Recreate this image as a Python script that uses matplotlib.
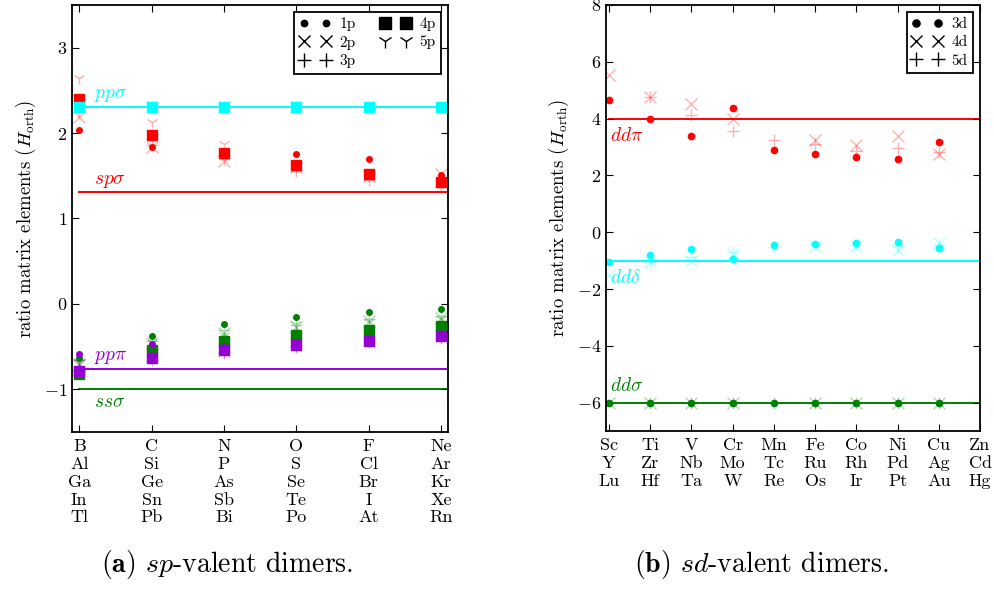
import matplotlib
matplotlib.use("Agg")
import matplotlib.pyplot as plt
import numpy as np
from matplotlib.lines import Line2D

plt.rcParams.update({
    "font.family": "serif",
    "font.serif": ["cmr10"],
    "mathtext.fontset": "cm",
    "axes.formatter.use_mathtext": True,
    "axes.linewidth": 1.3,
    "xtick.direction": "in",
    "ytick.direction": "in",
    "xtick.top": True,
    "ytick.right": True,
    "xtick.major.size": 5,
    "ytick.major.size": 5,
    "xtick.major.pad": 5,
    "font.size": 13,
})

nan = np.nan

# sp-valent dimers: one column per group, one row per period
sp_groups = [
    ["B", "Al", "Ga", "In", "Tl"],
    ["C", "Si", "Ge", "Sn", "Pb"],
    ["N", "P", "As", "Sb", "Bi"],
    ["O", "S", "Se", "Te", "Po"],
    ["F", "Cl", "Br", "I", "At"],
    ["Ne", "Ar", "Kr", "Xe", "Rn"],
]
sp_rows = ["1p", "2p", "3p", "4p", "5p"]

ss_sigma = [
    [-0.63, -0.38, -0.24, -0.15, -0.10, -0.06],
    [-0.70, -0.46, -0.34, -0.27, -0.20, -0.16],
    [-0.66, -0.44, -0.31, -0.25, -0.18, -0.14],
    [-0.82, -0.54, -0.43, -0.36, -0.30, -0.26],
    [-0.68, -0.45, -0.36, -0.24, -0.21, -0.18],
]
sp_sigma = [
    [2.03, 1.84, 1.75, 1.75, 1.70, 1.51],
    [2.19, 1.84, 1.67, 1.60, 1.50, 1.52],
    [2.25, 1.86, 1.70, 1.55, 1.45, 1.37],
    [2.40, 1.98, 1.77, 1.63, 1.52, 1.43],
    [2.65, 2.13, 1.87, 1.60, 1.50, 1.44],
]
pp_sigma = [
    [2.31, 2.31, 2.31, 2.31, 2.31, 2.31],
    [2.31, 2.31, 2.31, 2.31, 2.31, 2.31],
    [2.31, 2.31, 2.31, 2.31, 2.31, 2.31],
    [2.31, 2.31, 2.31, 2.31, 2.31, 2.31],
    [2.31, 2.31, 2.31, 2.31, 2.31, 2.31],
]
pp_pi = [
    [-0.59, -0.47, -0.50, -0.45, -0.40, -0.36],
    [-0.72, -0.60, -0.55, -0.48, -0.43, -0.38],
    [-0.74, -0.62, -0.56, -0.49, -0.44, -0.39],
    [-0.79, -0.63, -0.54, -0.48, -0.43, -0.38],
    [-0.77, -0.66, -0.58, -0.50, -0.45, -0.40],
]
sp_canonical = {"ss_sigma": -1.0, "sp_sigma": 1.31, "pp_sigma": 2.31, "pp_pi": -0.76}

# sd-valent dimers
sd_groups = [
    ["Sc", "Y", "Lu"], ["Ti", "Zr", "Hf"], ["V", "Nb", "Ta"], ["Cr", "Mo", "W"],
    ["Mn", "Tc", "Re"], ["Fe", "Ru", "Os"], ["Co", "Rh", "Ir"], ["Ni", "Pd", "Pt"],
    ["Cu", "Ag", "Au"], ["Zn", "Cd", "Hg"],
]
sd_rows = ["3d", "4d", "5d"]

dd_sigma = [
    [-6.0, -6.0, -6.0, -6.0, -6.0, -6.0, -6.0, -6.0, -6.0, nan],
    [-6.0, -6.0, -6.0, -6.0, nan, -6.0, -6.0, -6.0, -6.0, nan],
    [nan, -6.0, -6.0, -6.0, -6.0, -6.0, -6.0, -6.0, -6.0, nan],
]
dd_pi = [
    [4.65, 3.97, 3.38, 4.37, 2.89, 2.76, 2.65, 2.58, 3.17, nan],
    [5.55, 4.75, 4.53, 4.00, nan, 3.24, 3.06, 3.40, 2.74, nan],
    [nan, 4.75, 4.11, 3.58, 3.23, 3.09, 2.85, 2.97, 2.82, nan],
]
dd_delta = [
    [-1.06, -0.79, -0.59, -0.93, -0.46, -0.41, -0.39, -0.35, -0.55, nan],
    [-1.49, -1.06, -1.02, -0.78, nan, -0.49, -0.49, -0.61, -0.37, nan],
    [nan, -1.06, -0.87, -0.70, -0.53, -0.45, -0.46, -0.49, -0.45, nan],
]
sd_canonical = {"dd_sigma": -6.0, "dd_pi": 4.0, "dd_delta": -1.0}

GREEN, RED, CYAN, PURPLE = "green", "red", "cyan", "darkviolet"

# marker style per row: (marker, size, alpha)
sp_styles = [("o", 4, 1.0), ("x", 8, 0.3), ("+", 9, 0.3), ("s", 7.5, 1.0), ("1", 9, 0.3)]
sd_styles = [("o", 4.5, 1.0), ("x", 8, 0.3), ("+", 9, 0.3)]


def draw_panel(ax, series, canonical, styles, x_max, label_x):
    for key, values, color, lab, lab_dy in series:
        ax.plot([0, x_max], [canonical[key]] * 2, color=color, lw=1.4, zorder=1)
        ax.text(label_x, canonical[key] + lab_dy, lab, color=color, fontsize=14,
                ha="left", va="center")
    for key, values, color, lab, lab_dy in series:
        for row, (marker, ms, alpha) in zip(values, styles):
            ax.plot(np.arange(len(row)), row, ls="none", marker=marker, ms=ms,
                    color=color, alpha=alpha, mew=1.0, zorder=2)


def legend_handles(names, styles):
    return [
        Line2D([], [], ls="none", marker=m, ms=ms * 1.15, color="black", mew=1.0, label=n)
        for n, (m, ms, a) in zip(names, styles)
    ]


fig = plt.figure(figsize=(9.95, 5.94), dpi=100)
ax_sp = fig.add_axes([0.0724, 0.2727, 0.378, 0.719])
ax_sd = fig.add_axes([0.609, 0.2744, 0.376, 0.7172])

draw_panel(
    ax_sp,
    [
        ("ss_sigma", ss_sigma, GREEN, r"$ss\sigma$", -0.15),
        ("sp_sigma", sp_sigma, RED, r"$sp\sigma$", 0.13),
        ("pp_sigma", pp_sigma, CYAN, r"$pp\sigma$", 0.13),
        ("pp_pi", pp_pi, PURPLE, r"$pp\pi$", 0.14),
    ],
    sp_canonical, sp_styles, 5.1, 0.2,
)
ax_sp.set_xlim(-0.1, 5.1)
ax_sp.set_ylim(-1.5, 3.5)
ax_sp.set_yticks([-1, 0, 1, 2, 3])
ax_sp.set_xticks(range(len(sp_groups)))
ax_sp.set_xticklabels(["\n".join(g) for g in sp_groups], linespacing=1.2)
ax_sp.set_ylabel(r"ratio matrix elements ($H_\mathrm{orth}$)", fontsize=13.5)
leg = ax_sp.legend(handles=legend_handles(sp_rows, sp_styles), ncol=2, numpoints=2,
                   loc="upper right", fontsize=11, fancybox=False, edgecolor="black",
                   framealpha=1, borderaxespad=0.45, handletextpad=0.6,
                   columnspacing=1.6, labelspacing=0.3, borderpad=0.35)
leg.get_frame().set_linewidth(1.3)

draw_panel(
    ax_sd,
    [
        ("dd_sigma", dd_sigma, GREEN, r"$dd\sigma$", 0.6),
        ("dd_pi", dd_pi, RED, r"$dd\pi$", -0.6),
        ("dd_delta", dd_delta, CYAN, r"$dd\delta$", -0.6),
    ],
    sd_canonical, sd_styles, 9.0, 0.02,
)
ax_sd.set_xlim(-0.07, 9.0)
ax_sd.set_ylim(-7, 8)
ax_sd.set_yticks(range(-6, 9, 2))
ax_sd.set_xticks(range(len(sd_groups)))
ax_sd.set_xticklabels(["\n".join(g) for g in sd_groups], linespacing=1.2)
ax_sd.set_ylabel(r"ratio matrix elements ($H_\mathrm{orth}$)", fontsize=13.5)
leg = ax_sd.legend(handles=legend_handles(sd_rows, sd_styles), numpoints=2,
                   loc="upper right", fontsize=11, fancybox=False, edgecolor="black",
                   framealpha=1, borderaxespad=0.45, handletextpad=0.6,
                   labelspacing=0.3, borderpad=0.35)
leg.get_frame().set_linewidth(1.3)

fig.text(0.228, 0.05, r"$\mathbf{(a)}$ $sp$-valent dimers.", fontsize=20,
         ha="center", va="center")
fig.text(0.765, 0.05, r"$\mathbf{(b)}$ $sd$-valent dimers.", fontsize=20,
         ha="center", va="center")

fig.savefig("out.png", dpi=100)
